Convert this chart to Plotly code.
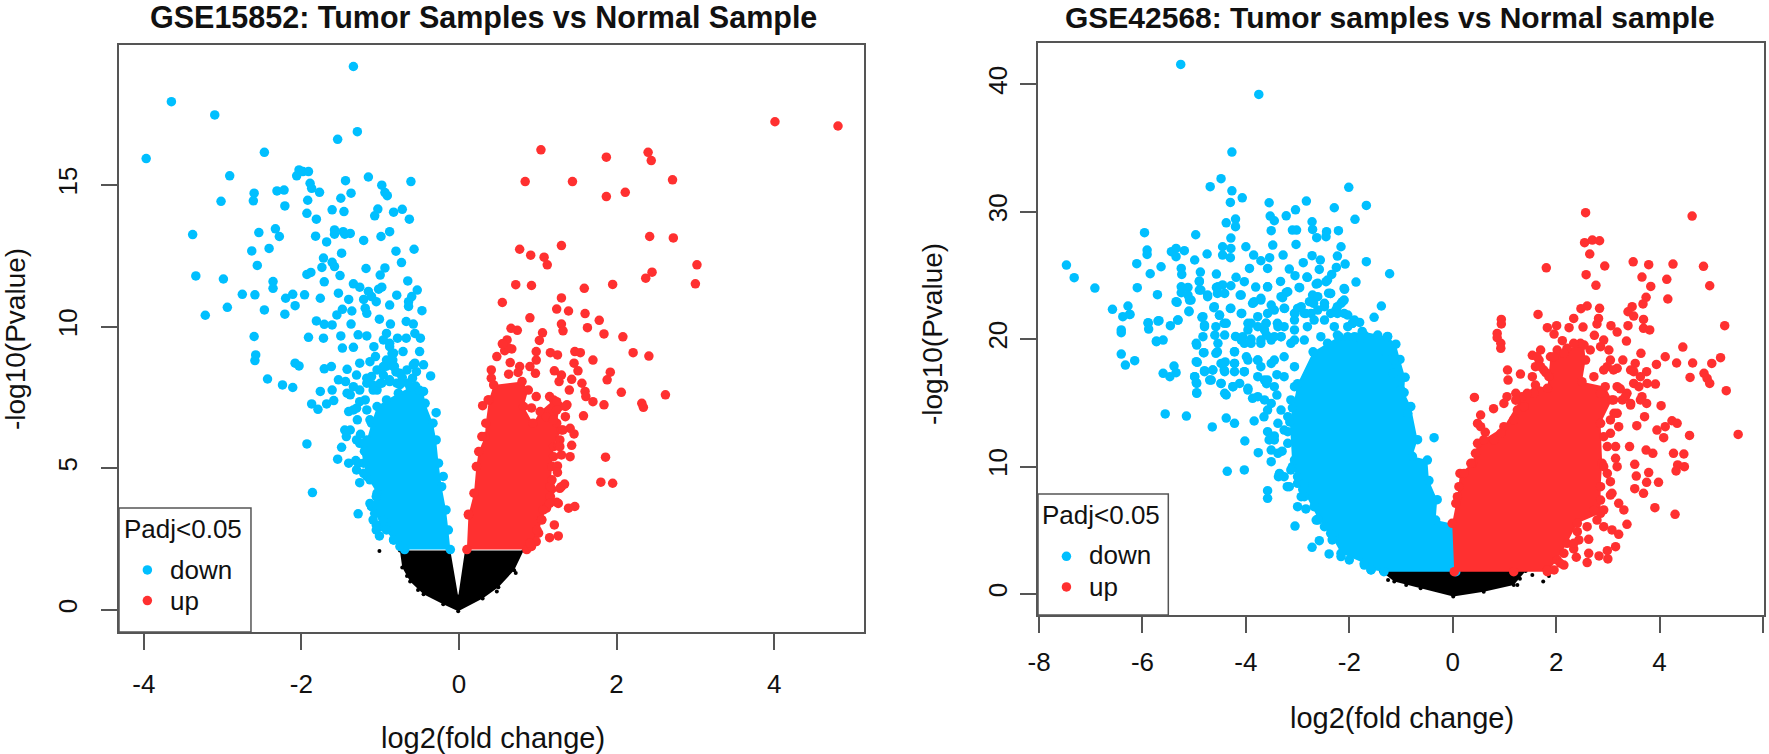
import plotly.graph_objects as go

W, H = 1769, 754
BLUE, RED, BLACK = "#00BFFF", "#FF3030", "#000000"
AXC = "#555555"

title_a = "GSE15852: Tumor Samples vs Normal Sample"
title_b = "GSE42568: Tumor samples vs Normal sample"
x_label = "log2(fold change)"
y_label = "-log10(Pvalue)"
legend_title = "Padj<0.05"
legend_labels = ["down", "up"]
ticks_ax = [-4, -2, 0, 2, 4]
ticks_ay = [0, 5, 10, 15]
ticks_bx = [-8, -6, -4, -2, 0, 2, 4, 6]
ticks_by = [0, 10, 20, 30, 40]

# Panel A: GSE15852, values as (log2FC, -log10P)
a_down_points = [
(-1.34,19.18),(-3.65,17.94),(-3.10,17.47),(-1.29,16.88),(-1.54,16.61),(-2.47,16.15),(-3.97,15.93),(-2.91,15.32),
(-2.03,15.53),(-2.06,15.32),(-1.98,15.47),(-1.91,15.47),(-1.44,15.15),(-1.15,15.28),(-0.61,15.12),(-0.98,14.99),
(-1.89,15.06),(-1.87,14.88),(-1.77,14.74),(-2.31,14.79),(-2.22,14.82),(-2.60,14.71),(-2.61,14.44),(-3.02,14.42),
(-1.37,14.71),(-1.50,14.53),(-1.92,14.46),(-0.94,14.73),(-0.91,14.62),(-2.21,14.26),(-1.61,14.12),(-1.46,14.06),
(-1.03,14.15),(-1.07,13.91),(-0.83,14.04),(-0.72,14.14),(-1.93,14.0),(-1.81,13.79),(-0.63,13.79),(-3.38,13.25),
(-2.54,13.32),(-2.33,13.45),(-2.28,13.18),(-1.82,13.19),(-1.58,13.41),(-1.58,13.26),(-1.47,13.35),(-1.45,13.26),
(-1.38,13.29),(-0.88,13.35),(-0.99,13.18),(-1.21,13.04),(-1.68,12.99),(-2.41,12.76),(-2.63,12.67),(-0.80,12.66),
(-0.57,12.73),(-1.49,12.59),(-1.72,12.42),(-0.73,12.26),(-1.61,12.27),(-1.58,12.12),(-1.74,12.09),(-2.56,12.16),
(-0.94,12.07),(-1.18,12.05),(-1.88,11.91),(-1.93,11.84),(-1.00,11.82),(-1.51,11.80),(-3.34,11.79),(-2.99,11.68),
(-0.65,11.61),(-1.71,11.58),(-2.36,11.59),(-2.36,11.35),(-1.34,11.51),(-1.26,11.39),(-0.98,11.39),(-1.02,11.32),
(-0.53,11.29),(-2.75,11.14),(-2.59,11.12),(-2.11,11.14),(-1.96,11.12),(-1.53,11.18),(-1.15,11.24),(-2.20,11.0),
(-1.76,11.0),(-1.40,10.96),(-1.21,10.96),(-1.11,11.06),(-1.05,10.88),(-0.79,11.11),(-0.60,11.06),(-0.64,10.88),
(-0.64,10.71),(-0.88,10.76),(-2.08,10.74),(-2.94,10.68),(-2.47,10.59),(-3.22,10.40),(-2.21,10.44),(-1.48,10.61),
(-1.55,10.41),(-1.36,10.55),(-1.19,10.65),(-1.17,10.47),(-0.47,10.56),(-1.01,10.26),(-1.81,10.2),(-1.71,10.08),
(-1.61,10.06),(-1.37,10.09),(-0.87,10.09),(-0.67,10.18),(-0.58,10.09),(-2.60,9.65),(-1.91,9.62),(-1.72,9.59),
(-1.50,9.67),(-1.28,9.71),(-1.17,9.67),(-0.92,9.76),(-0.78,9.59),(-0.67,9.59),(-0.56,9.76),(-0.49,9.59),
(-1.48,9.24),(-1.34,9.27),(-1.08,9.29),(-2.58,9.0),(-2.59,8.8),(-2.08,8.71),(-2.03,8.61),(-0.50,9.12),
(-0.71,9.12),(-1.06,8.94),(-1.26,8.71),(-1.13,8.76),(-1.62,8.59),(-1.71,8.51),(-1.42,8.49),(-1.30,8.29),
(-2.43,8.15),(-2.24,7.94),(-2.11,7.85),(-0.36,8.26),(-0.45,8.65),(-0.58,8.65),(-0.59,8.18),(-1.17,8.18),
(-1.76,7.71),(-1.61,7.76),(-1.87,7.27),(-1.79,7.08),(-1.68,7.27),(-1.59,7.39),(-0.29,6.96),(-1.93,5.86),
(-1.49,5.74),(-1.54,5.32),(-1.40,5.18),(-1.31,5.27),(-0.20,4.71),(-1.26,4.49),(-1.86,4.14),(-1.28,3.39),
(-1.01,2.61),(-1.05,3.0),(-1.11,3.65),(-1.43,6.12),(-1.45,6.35),(-1.38,6.35),(-1.40,7.0),(-1.29,6.71),
(-1.30,7.12),(-1.13,6.71),(-1.19,7.41),(-1.53,8.12),(-1.44,8.06),(-1.34,7.88),(-1.38,7.59),(-1.04,7.76),
(-0.88,8.06),(-0.96,8.29),(-0.84,8.82),(-0.88,9.29),(-0.92,8.6),(-0.80,8.4),(-0.72,8.2),(-0.65,8.0),
(-0.55,7.9),(-0.75,7.95),(-0.98,8.0),(-1.10,7.95),(-0.85,9.05),(-0.82,8.6),(-0.50,7.75),(-1.25,6.2),(-1.2,5.6),
(-0.96,9.53),(-0.88,9.41),(-0.83,9.06),(-0.92,8.82),(-0.96,8.59),(-1.04,8.47),(-1.11,8.24),(-1.17,8.0),
(-0.83,8.59),(-0.75,8.35),(-0.66,8.47),(-0.56,8.71),(-0.54,8.41),(-0.88,8.12),(-0.79,8.0),(-1.0,8.0),
(-1.09,7.76),(-1.26,7.76),(-1.42,7.65),(-1.26,7.35),(-1.34,7.06),(-1.17,7.06),(-1.30,6.0),(-1.21,5.88),
(-1.17,5.59),(-1.28,5.18),(-1.30,4.94),(-1.21,4.82),(-1.13,4.59),(-1.05,4.0),(-1.13,3.76),(-1.07,3.41),
(-0.96,3.18),(-0.92,2.82),(-0.83,2.47),(-0.75,2.24),(-1.09,3.18),(-1.05,2.82),
]
a_down_core = [
(-0.11,2.13),(-0.135,2.82),(-0.165,3.53),(-0.22,4.35),(-0.26,5.18),(-0.29,6.0),(-0.33,6.59),(-0.43,7.29),
(-0.45,7.71),(-0.62,7.86),(-0.77,7.65),(-0.92,7.41),(-1.04,7.18),(-1.11,6.59),(-1.17,6.0),(-1.26,5.88),
(-1.21,5.18),(-1.17,4.71),(-1.04,4.12),(-1.11,3.65),(-0.98,2.94),(-0.83,2.47),(-0.69,2.13),
]
a_up_points = [
(1.04,16.24),(1.87,15.98),(2.40,16.15),(2.44,15.86),(0.84,15.12),(1.44,15.12),(2.71,15.18),(2.11,14.74),
(1.87,14.59),(2.42,13.18),(2.72,13.13),(1.30,12.86),(0.77,12.73),(0.91,12.52),(1.08,12.45),(1.12,12.18),
(3.02,12.18),(2.45,11.92),(2.37,11.71),(3.00,11.51),(0.72,11.48),(0.92,11.45),(1.95,11.49),(1.59,11.35),
(1.30,11.01),(0.55,10.85),(1.24,10.62),(1.39,10.55),(1.60,10.46),(0.90,10.31),(1.78,10.22),(1.30,10.09),
(1.63,9.96),(1.32,9.85),(0.66,9.94),(0.74,9.87),(1.06,9.78),(1.84,9.74),(2.08,9.64),(1.02,9.51),
(0.61,9.53),(0.55,9.39),(0.67,9.21),(0.58,9.15),(0.98,9.12),(1.16,9.08),(1.25,9.0),(1.47,9.12),
(1.54,9.08),(2.21,9.08),(2.41,8.96),(0.48,8.94),(1.70,8.82),(0.65,8.73),(0.41,8.47),(0.77,8.59),
(0.90,8.59),(0.75,8.38),(0.98,8.82),(0.63,8.32),(0.97,8.35),(1.46,8.71),(1.51,8.44),(1.21,8.44),
(1.30,8.29),(1.43,8.14),(1.92,8.39),(1.88,8.12),(1.27,8.06),(1.56,8.0),(2.06,7.68),(2.62,7.59),
(1.40,7.76),(1.60,7.71),(1.61,7.53),(1.70,7.35),(1.84,7.24),(2.32,7.29),(2.34,7.15),(0.30,7.21),
(0.92,7.13),(1.58,6.85),(1.37,7.24),(1.35,6.82),(0.98,7.53),(1.15,7.53),(1.24,7.35),(1.41,6.41),
(1.46,6.21),(1.32,6.35),(1.28,6.0),(1.26,5.79),(1.43,5.81),(1.30,5.47),(1.41,5.41),(1.86,5.39),
(1.25,5.08),(1.25,4.85),(1.80,4.51),(1.95,4.47),(1.34,4.44),(1.28,4.29),(1.24,3.8),(1.47,3.65),
(1.39,3.59),(1.05,3.18),(1.21,3.0),(1.26,2.61),(1.15,2.55),(0.98,2.41),(0.92,2.24),(0.29,6.12),
(0.12,3.38),(4.01,17.23),(4.81,17.08),(0.41,8.18),(0.37,7.41),(1.11,6.82),(1.20,6.71),(1.35,7.18),
(1.24,7.06),(1.28,5.76),(1.20,5.41),(1.18,4.59),(1.15,3.76),(1.07,3.53),(0.99,2.82),(0.90,2.35),
(0.63,9.24),(0.56,9.39),
]
a_up_core = [
(0.10,2.13),(0.12,3.35),(0.19,4.12),(0.22,5.06),(0.25,5.59),(0.33,6.12),(0.34,6.59),(0.38,7.41),
(0.44,7.94),(0.80,8.06),(0.88,7.76),(0.82,7.18),(0.94,6.59),(1.03,7.0),(1.20,7.41),(1.28,7.18),
(1.24,6.59),(1.30,6.35),(1.20,5.76),(1.18,5.06),(1.16,4.35),(1.30,4.35),(1.16,4.0),(1.26,3.76),
(1.11,3.59),(1.05,3.18),(1.01,2.71),(0.86,2.13),
]
a_ns_core = [
(-0.75,2.1),(-0.72,1.5),(-0.62,1.0),(-0.45,0.55),(-0.2,0.2),(-0.01,-0.05),(0.3,0.4),(0.5,0.8),(0.7,1.4),
(0.82,2.1),(0.076,2.1),(-0.01,0.47),(-0.11,2.1),
]
a_ns_points = [(-1.01,2.08),(-0.66,1.2),(-0.52,0.7),(0.48,0.65),(0.72,1.3)]

# Panel B: GSE42568
b_down_points = [
(-5.26,41.54),(-3.75,39.19),(-4.27,34.67),(-4.48,32.58),(-4.69,31.95),(-4.27,31.63),(-4.07,31.08),(-4.30,30.72),
(-2.01,31.9),(-3.55,30.69),(-2.83,30.82),(-1.67,30.48),(-2.29,30.3),(-3.04,30.14),(-3.22,29.67),(-3.53,29.65),
(-3.45,29.28),(-1.89,29.39),(-4.20,29.41),(-4.38,29.12),(-4.20,28.81),(-2.72,29.2),(-2.71,28.6),(-3.51,28.5),
(-3.10,28.55),(-3.02,28.55),(-2.21,28.5),(-2.44,28.42),(-2.45,28.03),(-2.63,27.95),(-5.96,28.34),(-4.97,28.18),
(-4.29,27.92),(-3.03,27.42),(-4.0,27.24),(-4.45,27.24),(-4.29,27.11),(-2.16,27.24),(-3.48,27.37),(-5.91,26.98),
(-5.91,26.64),(-5.44,26.85),(-5.35,27.11),(-5.19,26.93),(-5.35,26.46),(-4.75,26.67),(-4.45,26.59),(-4.30,26.38),
(-3.85,26.59),(-3.28,26.59),(-3.54,26.38),(-2.72,26.54),(-2.23,26.51),(-7.47,25.8),(-7.32,24.81),(-6.92,24.0),
(-6.11,25.91),(-5.85,25.12),(-5.64,25.67),(-6.10,24.03),(-5.71,23.48),(-4.99,26.2),(-5.25,25.54),(-5.24,25.07),
(-4.88,25.25),(-4.57,25.1),(-3.71,26.14),(-3.93,25.54),(-3.58,25.54),(-3.16,25.49),(-3.05,24.97),(-2.89,25.99),
(-2.56,26.2),(-2.58,25.46),(-2.25,25.62),(-2.08,25.88),(-1.67,26.07),(-1.22,25.12),(-2.82,24.86),(-2.34,25.07),
(-1.87,24.47),(-2.45,24.5),(-2.64,24.31),(-3.33,24.52),(-4.19,24.84),(-4.03,24.5),(-3.81,24.08),(-4.90,24.55),
(-4.29,24.18),(-4.45,24.24),(-4.57,24.05),(-5.12,24.05),(-5.25,24.1),(-5.25,23.63),(-4.87,23.84),(-4.74,23.45),
(-4.55,23.58),(-3.58,24.1),(-2.96,24.03),(-2.09,23.9),(-3.22,23.66),(-3.29,23.24),(-4.11,23.45),(-2.37,23.58),
(-2.71,23.45),(-5.12,23.45),(-5.06,23.06),(-5.33,22.88),(-6.28,22.59),(-6.58,22.33),(-6.24,21.93),(-6.38,21.75),
(-5.10,22.2),(-4.62,22.46),(-4.30,22.4),(-4.08,22.01),(-4.51,21.86),(-1.38,22.59),(-1.52,21.7),(-5.89,21.23),
(-5.70,21.41),(-5.46,21.05),(-5.31,21.49),(-4.85,21.7),(-6.41,20.71),(-3.85,22.85),(-3.71,23.06),(-3.51,22.67),
(-3.25,22.4),(-3.0,22.4),(-2.69,22.8),(-2.48,22.8),(-2.13,22.93),(-2.26,22.27),(-2.03,21.88),(-1.94,21.23),
(-2.48,21.49),(-2.74,22.01),(-3.05,22.01),(-3.39,21.23),(-3.61,21.23),(-3.90,21.23),(-4.42,21.23),(-4.80,21.1),
(-6.41,20.5),(-5.73,19.84),(-5.60,19.92),(-6.41,18.82),(-6.15,18.3),(-6.33,17.96),(-5.39,17.88),(-5.35,17.36),
(-5.60,17.31),(-5.47,17.05),(-4.94,18.17),(-4.95,19.53),(-4.81,18.93),(-4.99,17.05),(-4.95,16.52),(-4.95,15.79),
(-5.56,14.12),(-5.15,13.96),(-4.65,13.1),(-4.38,13.8),(-4.22,13.39),(-3.84,13.57),(-4.02,12.0),(-3.76,11.08),
(-4.36,9.62),(-4.03,9.73),(-3.58,8.1),(-3.58,7.5),(-3.0,6.85),(-2.84,6.67),(-3.05,5.33),(-2.58,4.18),
(-2.72,3.66),(-2.39,3.14),(-2.48,5.28),(-2.64,5.8),(-2.29,4.5),(-3.51,10.38),(-3.2,8.42),(-3.37,9.2),
(-3.38,13.39),(-3.65,13.9),(-4.38,15.61),(-4.67,16.78),(-4.48,16.52),(-4.25,16.26),(-4.12,16.52),(-4.80,17.44),
(-4.64,17.57),(-4.42,17.57),(-4.22,18.09),(-4.03,17.44),(-3.96,18.35),(-4.55,19.0),(-4.22,19.0),(-3.71,17.83),
(-3.96,16.13),(-3.77,15.48),(-3.58,14.43),(-0.36,12.26),(-4.6,20.3),(-4.2,20.2),(-3.9,20.0),(-3.6,20.3),
(-4.4,18.2),(-3.6,16.5),(-3.4,17.2),(-3.4,15.6),(-3.45,12.4),(-3.3,11.2),(-3.1,14.6),(-2.4,23.6),(-1.8,21.3),
(-4.09,22.01),(-3.96,21.23),(-3.77,21.75),(-3.58,22.01),(-3.45,22.27),(-3.26,22.41),(-3.84,22.93),(-3.71,23.19),
(-4.83,21.75),(-4.80,20.97),(-4.83,20.18),(-4.58,20.97),(-4.38,21.23),(-4.41,20.31),(-4.54,19.66),(-4.58,18.88),
(-4.96,19.66),(-4.82,18.93),(-4.22,19.01),(-4.06,20.18),(-4.03,19.66),(-3.77,18.35),(-3.99,18.61),(-4.22,18.09),
(-4.48,18.09),(-4.41,17.44),(-4.64,17.57),(-4.80,17.52),(-4.22,17.44),(-4.03,17.44),(-3.77,17.05),(-4.96,18.22),
(-4.99,17.05),(-4.96,16.58),(-4.70,16.78),(-4.48,16.52),(-4.41,15.74),(-4.25,16.26),(-4.95,15.74),(-3.96,16.0),
(-3.87,15.35),(-3.64,15.22),(-3.58,16.78),(-3.45,18.35),(-3.71,19.92),(-3.64,20.71),(-3.32,20.18),(-3.06,19.92),
(-3.38,20.97),(-3.06,21.49),(-2.87,22.01),(-2.68,23.32),(-2.48,22.54),(-2.23,22.01),(-2.10,23.06),(-1.94,21.23),
(-5.09,23.06),(-5.35,22.93),(-5.10,22.14),(-5.32,21.49),(-5.89,21.28),(-5.88,20.78),(-5.68,21.44),(-5.73,19.79),
(-6.25,21.93),(-4.74,23.32),(-4.61,22.54),(-4.51,21.88),(-4.29,22.41),(-4.54,24.1),(-4.41,23.58),(-4.90,24.5),
(-4.90,23.84),(-4.09,23.45),(-3.87,22.8),(-3.58,24.1),(-3.32,23.32),(-3.19,23.71),(-2.97,24.05),(-2.81,24.84),
(-2.61,24.37),(-2.42,24.63),(-2.36,23.58),(-2.10,23.97),(-2.16,22.8),(-2.36,22.01),
(-4.09,19.92),(-3.90,19.66),(-3.71,19.66),(-3.51,19.92),(-3.32,20.18),(-3.77,18.35),(-3.51,18.09),(-3.26,18.61),
(-3.06,17.83),(-3.64,16.78),(-3.45,16.26),(-3.26,17.05),(-3.06,16.26),(-3.51,14.95),(-3.32,14.43),(-3.13,15.22),
(-3.19,13.91),(-3.26,12.86),(-3.45,12.08),(-3.38,11.03),(-3.19,11.82),(-3.06,10.51),(-3.0,8.68),(-2.87,7.63),
(-2.93,22.54),(-2.77,22.93),(-2.61,23.32),(-2.84,22.01),(-3.06,22.01),(-2.61,22.27),(-2.68,21.49),(-2.81,20.97),
(-3.06,20.71),(-3.26,20.97),(-3.45,20.18),(-3.61,21.23),(-3.77,20.97),(-3.96,20.71),(-3.13,19.66),(-2.87,19.92),
(-2.55,20.18),(-2.29,20.97),(-2.03,20.97),(-1.90,20.18),(-2.23,22.54),(-2.10,22.01),(-1.90,21.49),(-1.78,20.18),
(-3.26,9.2),(-3.16,8.42),(-3.35,9.46),(-3.51,11.29),(-3.55,12.08),(-3.58,12.73),(-3.19,12.73),(-2.93,7.63),
(-2.68,6.85),(-2.61,5.8),(-2.36,4.76),(-2.33,4.24),(-2.16,2.93),(-2.0,2.67),(-1.71,2.27),(-1.58,1.88),
(-3.0,9.2),(-2.87,8.68),(-3.13,9.73),(-1.26,20.18),(-1.45,20.31),(-1.71,20.31),(-1.13,18.35),(-1.16,17.31),
(-1.0,16.0),(-0.87,14.17),(-1.29,19.0),(-1.78,20.05),(-2.03,20.18),(-2.23,20.31),(-2.42,19.66),
]
b_down_core = [
(0.06,1.75),(0.0,5.5),(-0.33,5.8),(-0.30,7.4),(-0.46,8.9),(-0.49,10.5),(-0.78,10.8),(-0.68,12.1),(-0.81,14.7),
(-0.94,15.8),(-0.92,17.0),(-1.02,18.4),(-1.10,19.6),(-1.26,20.2),(-1.75,20.6),(-2.2,20.2),(-2.7,19.0),
(-3.0,16.5),(-3.15,13.5),(-3.1,10.0),(-2.9,8.2),(-2.6,5.9),(-2.32,4.37),(-2.16,3.19),(-1.71,2.4),(-1.58,1.9),(-1.33,1.75),
]
b_up_points = [
(2.57,29.91),(4.63,29.65),(2.55,27.56),(2.70,27.76),(2.84,27.71),(2.65,26.67),(3.49,26.06),(3.79,25.83),
(4.26,25.88),(4.85,25.7),(2.94,25.73),(1.81,25.59),(2.58,25.05),(3.66,24.86),(4.14,24.68),(2.77,24.21),
(3.83,24.13),(4.97,24.18),(3.74,23.27),(4.16,23.14),(3.68,22.75),(2.60,22.59),(2.48,22.38),(2.84,22.41),
(3.47,22.54),(3.39,22.14),(1.65,21.93),(0.94,21.54),(0.94,21.18),(3.50,21.8),(3.69,21.54),(2.34,21.62),
(2.82,21.62),(3.06,21.05),(2.79,21.18),(3.39,21.05),(2.52,20.94),(2.25,20.89),(1.83,20.89),(2.01,21.05),
(5.26,21.05),(3.69,20.84),(3.81,20.71),(3.18,20.55),(0.86,20.44),(0.86,20.1),(0.93,19.66),(0.93,19.27),
(1.96,20.39),(2.74,20.29),(3.36,19.84),(2.12,19.87),(4.45,19.37),(1.70,19.14),(1.54,18.72),(3.64,18.88),
(4.11,18.61),(5.18,18.54),(3.29,18.35),(3.94,18.01),(4.33,18.12),(4.64,18.12),(5.01,18.09),(3.53,18.09),
(1.06,17.57),(1.31,17.25),(1.07,16.78),(1.60,17.83),(1.54,17.05),(1.80,17.36),(3.75,17.44),(4.86,17.31),
(4.59,16.99),(4.92,16.91),(4.97,16.52),(3.92,16.47),(5.29,15.95),(0.42,15.42),(0.79,14.54),(1.05,15.48),
(1.22,15.74),(3.75,14.95),(4.03,14.77),(3.44,14.82),(0.54,14.04),(0.54,13.12),(0.63,12.68),(3.71,13.91),
(4.24,13.59),(4.34,13.39),(3.56,13.2),(4.11,13.12),(3.95,12.86),(4.08,12.26),(4.58,12.44),(5.52,12.52),
(3.21,13.12),(3.15,11.56),(3.42,11.56),(3.74,11.29),(3.87,11.03),(4.27,11.03),(4.47,10.98),(3.15,10.64),
(3.18,9.99),(3.52,10.17),(4.35,10.12),(4.48,9.99),(4.32,9.65),(3.79,9.52),(3.55,9.25),(3.75,8.76),
(3.98,8.76),(3.05,8.81),(3.52,8.26),(3.69,7.9),(3.08,7.9),(3.91,6.77),(4.30,6.25),(3.21,7.11),
(3.31,6.59),(3.37,5.46),(3.08,5.02),(3.21,4.68),(2.92,5.28),(2.41,4.89),(2.44,4.24),(2.63,4.29),
(3.15,3.71),(2.34,3.53),(2.39,2.88),(2.63,3.19),(2.60,2.46),(2.83,2.98),(2.99,3.4),(3.0,2.75),
(2.15,2.27),(1.96,1.88),(3.18,16.26),(3.28,15.22),(3.12,14.17),(3.05,12.6),(3.5,16.52),(3.66,15.48),
(2.99,17.83),(2.92,19.92),(2.47,19.66),(2.66,19.14),(3.11,17.57),(3.44,17.57),(3.63,17.05),(2.86,15.74),
(3.37,15.74),(1.22,15.2),(0.99,14.95),(1.25,14.43),(1.57,15.74),(1.67,18.35),(1.76,17.57),(1.86,17.05),
(2.02,19.14),(2.15,18.88),(2.34,19.66),(2.86,19.4),(3.02,19.14),(3.05,18.35),(2.92,17.57),(2.73,17.05),
(3.18,17.7),(3.50,17.44),(3.76,16.52),(3.60,16.26),(3.24,16.09),(3.34,15.48),(3.11,15.22),(3.44,14.95),
(3.63,15.22),(3.18,14.17),(3.05,13.65),(2.92,12.34),(2.99,11.56),(2.92,9.99),(2.99,9.46),(2.86,7.37),
(3.05,7.76),(2.92,6.59),(2.79,5.8),(2.73,6.59),(2.60,5.28),(2.34,3.97),(2.15,3.19),(2.08,2.41),(1.83,1.88),
(0.48,13.38),(0.60,12.08),(0.44,11.03),(0.35,10.25),(0.22,9.46),(0.12,8.42),(0.06,7.11),(0.93,12.6),
(0.80,12.08),(1.18,13.65),(1.38,14.69),(1.44,15.74),(1.63,18.61),(1.70,17.83),(1.96,18.61),
]
b_up_core = [
(0.03,1.75),(-0.01,5.54),(0.09,7.63),(0.14,9.46),(0.38,10.25),(0.48,11.82),(0.99,13.12),(1.34,15.48),
(1.60,16.39),(1.83,16.13),(1.89,18.61),(2.21,19.27),(2.54,19.53),(2.57,18.35),(2.50,16.65),(2.95,16.26),
(3.08,15.22),(2.86,13.39),(2.89,10.25),(2.86,8.42),(2.86,6.33),(2.41,5.54),(2.21,3.97),(2.02,2.67),
(1.83,1.75),(1.18,1.75),
]
b_ns_core = [
(-1.39,1.8),(-1.13,0.97),(-0.62,0.44),(0.01,-0.2),(0.6,0.18),(1.18,0.71),(1.41,1.8),
]
b_ns_points = [(1.54,1.49),(1.75,0.97),(1.25,0.71),(1.86,1.41),(1.3,1.2),(-1.25,1.1),(-0.9,0.7)]

fig = go.Figure()

def unzip(pairs):
    return [p[0] for p in pairs], [p[1] for p in pairs]

def add_core(pairs, color, size, xa, ya):
    x, y = unzip(pairs)
    fig.add_trace(go.Scatter(x=x, y=y, mode="markers", fill="toself", fillcolor=color,
                             marker=dict(color=color, size=size, line=dict(width=0)),
                             xaxis=xa, yaxis=ya, showlegend=False, hoverinfo="skip"))

def add_points(pairs, color, size, xa, ya):
    x, y = unzip(pairs)
    fig.add_trace(go.Scatter(x=x, y=y, mode="markers",
                             marker=dict(color=color, size=size, line=dict(width=0)),
                             xaxis=xa, yaxis=ya, showlegend=False, hoverinfo="skip"))

for core, pts, col, size, xa, ya in [
    (a_ns_core, a_ns_points, BLACK, 4, "x", "y"),
    (a_down_core, a_down_points, BLUE, 9.5, "x", "y"),
    (a_up_core, a_up_points, RED, 9.5, "x", "y"),
    (b_ns_core, b_ns_points, BLACK, 4, "x2", "y2"),
    (b_down_core, b_down_points, BLUE, 9.5, "x2", "y2"),
    (b_up_core, b_up_points, RED, 9.5, "x2", "y2"),
]:
    add_core(core, col, size, xa, ya)
    add_points(pts, col, size, xa, ya)

# legend keys
add_points([(-3.955, 1.41)], BLUE, 9.5, "x", "y")
add_points([(-3.955, 0.33)], RED, 9.5, "x", "y")
add_points([(-7.47, 2.95)], BLUE, 9.5, "x2", "y2")
add_points([(-7.47, 0.55)], RED, 9.5, "x2", "y2")

def axis(domain, rng, ticks, standoff, **kw):
    return dict(domain=domain, range=rng, tickvals=ticks, ticktext=[str(t) for t in ticks],
                showgrid=False, zeroline=False, showline=True, mirror=True, automargin=False,
                linecolor=AXC, linewidth=1.6, ticks="outside", ticklen=16, tickwidth=1.5,
                ticklabelstandoff=standoff,
                tickcolor=AXC, tickfont=dict(family="Liberation Sans", size=26, color="#111111"), **kw)

fig.update_layout(
    width=W, height=H, margin=dict(l=0, r=0, t=0, b=0),
    paper_bgcolor="white", plot_bgcolor="white", showlegend=False,
    xaxis=axis([119/W, 864/W], [-4.315, 5.14], ticks_ax, 12, anchor="y"),
    yaxis=axis([1-632/H, 1-44.7/H], [-0.78, 19.95], ticks_ay, 14, anchor="x", tickangle=-90),
    xaxis2=axis([1038/W, 1764/W], [-8.02, 6.02], ticks_bx, 7, anchor="y2"),
    yaxis2=axis([1-615/H, 1-43.3/H], [-1.65, 43.2], ticks_by, 3, anchor="x2", tickangle=-90),
)

def label(text, px, py, size=26, bold=False, angle=0, anchor="center"):
    t = f"<b>{text}</b>" if bold else text
    fig.add_annotation(text=t.replace("<0", "&lt;0"), x=px/W, y=1-py/H, xref="paper", yref="paper",
                       showarrow=False, textangle=angle, xanchor=anchor, yanchor="middle",
                       font=dict(family="Liberation Sans", size=size, color="#111111"))

label(title_a, 483, 18, 30.5, True)
label(title_b, 1390, 18, 30, True)
label(x_label, 493, 738, 29)
label(x_label, 1402, 718, 29)
label(y_label, 15, 339, 28, angle=-90)
label(y_label, 932, 334, 28, angle=-90)

# legend boxes
for xr, yr, x0, x1, y0, y1 in [("x", "y", -4.315, -2.64, -0.78, 3.6), ("x2", "y2", -8.02, -5.5, -1.65, 7.84)]:
    fig.add_shape(type="rect", xref=xr, yref=yr, x0=x0, x1=x1, y0=y0, y1=y1,
                  line=dict(color=AXC, width=1.5), fillcolor="white", layer="below")

label(legend_title, 183, 529, 26)
label(legend_labels[0], 168, 570, 26, anchor="left")
label(legend_labels[1], 168, 601, 26, anchor="left")
label(legend_title, 1101, 515, 26)
label(legend_labels[0], 1087, 555, 26, anchor="left")
label(legend_labels[1], 1087, 587, 26, anchor="left")

fig.write_html("out.html", config=dict(displayModeBar=False),
               post_script="document.body.style.margin='0';document.body.style.overflow='hidden';")
